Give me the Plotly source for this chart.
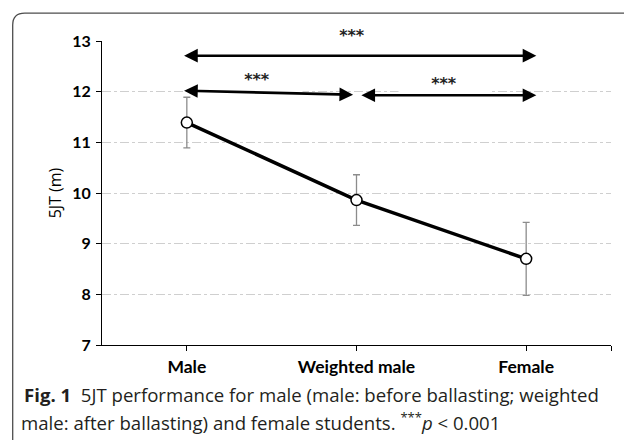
import plotly.graph_objects as go

categories = ["Male", "Weighted male", "Female"]
means = [11.39, 9.86, 8.70]
sds = [0.50, 0.50, 0.72]
y_ticks = [7, 8, 9, 10, 11, 12, 13]
sig_label = "***"

fig = go.Figure()
fig.add_trace(go.Scatter(
    x=[0, 1, 2], y=means,
    mode="lines+markers",
    line=dict(color="black", width=3.5),
    marker=dict(size=11, color="white", line=dict(color="black", width=1.5)),
    error_y=dict(type="data", array=sds, color="#8c8c8c", thickness=1.3, width=3.5),
    showlegend=False, cliponaxis=False,
))

W, H = 624, 440
L, R, T, B = 102, 13, 41, 94.5
pw, ph = W - L - R, H - T - B


def px_x(p):
    return (p - L) / pw


def px_y(p):
    return (H - B - p) / ph


annotations = []
star_font = dict(family="DejaVu Sans", size=16, color="#222")
# significance labels (white boxes interrupt gridlines)
annotations.append(dict(x=0.975, y=px_y(35), xref="x", yref="paper", text="<b>" + sig_label + "</b>",
                        showarrow=False, font=star_font, bgcolor="white", width=88, height=24,
                        xanchor="center", yanchor="middle"))
for (sx, sy) in [(0.414, 12.25), (1.516, 12.18)]:
    annotations.append(dict(x=sx, y=sy, xref="x", yref="y", text="<b>" + sig_label + "</b>",
                            showarrow=False, font=star_font, bgcolor="white", width=88, height=26,
                            xanchor="center", yanchor="middle"))
# double arrows
for (x0, y0, x1, y1) in [(-0.025, 12.71, 2.06, 12.71), (-0.025, 12.02, 0.98, 11.94),
                         (1.02, 11.93, 2.06, 11.93)]:
    annotations.append(dict(x=x1, y=y1, ax=x0, ay=y0, xref="x", yref="y", axref="x", ayref="y",
                            text="", showarrow=True, arrowside="end+start", arrowhead=2,
                            arrowsize=1.05, arrowwidth=2.6, arrowcolor="black",
                            standoff=0, startstandoff=0))
# caption
cap_font = dict(family="Open Sans", size=18.6, color="#231f20")
annotations.append(dict(x=px_x(22), y=px_y(395), xref="paper", yref="paper", xanchor="left",
                        yanchor="middle", showarrow=False, align="left",
                        text="<b>Fig. 1</b>  5JT performance for male (male: before ballasting; weighted",
                        font=cap_font))
annotations.append(dict(x=px_x(19), y=px_y(422), xref="paper", yref="paper", xanchor="left",
                        yanchor="middle", showarrow=False, align="left",
                        text="male: after ballasting) and female students. <sup>***</sup><i>p</i> < 0.001",
                        font=cap_font))

r = 12
x_left = px_x(12.7)
y_top = px_y(13)
path = (f"M {x_left:.5f},{px_y(445):.5f} L {x_left:.5f},{px_y(13 + r):.5f} "
        f"Q {x_left:.5f},{y_top:.5f} {px_x(12.7 + r):.5f},{y_top:.5f} L {px_x(640):.5f},{y_top:.5f}")
shapes = [dict(type="path", xref="paper", yref="paper", path=path,
               line=dict(color="#4d4d4d", width=1.3), layer="above")]

fig.update_layout(
    width=W, height=H,
    margin=dict(l=L, r=R, t=T, b=B),
    plot_bgcolor="white", paper_bgcolor="white",
    annotations=annotations, shapes=shapes,
    xaxis=dict(range=[-0.5, 2.5], tickvals=[0, 1, 2, 2.5], ticktext=categories + [""],
               showgrid=False, zeroline=False, showline=True, linecolor="black", linewidth=1.2,
               ticks="outside", ticklen=5, tickcolor="black", ticklabelstandoff=1,
               tickfont=dict(family="Lato", size=17.5, color="black", weight="bold")),
    yaxis=dict(range=[7, 13], tickvals=y_ticks, showgrid=True, gridcolor="#cfcfcf",
               griddash="dashdot", gridwidth=1, zeroline=False, showline=True,
               linecolor="black", linewidth=1.2, ticks="outside", ticklen=5, tickcolor="black",
               ticklabelstandoff=2,
               tickfont=dict(family="Lato", size=16, color="black", weight="bold"),
               title=dict(text="5JT (m)", standoff=6,
                          font=dict(family="Open Sans", size=16, color="black"))),
)

fig.write_html("out.html", config={"displayModeBar": False},
               post_script="document.body.style.margin='0px';")
